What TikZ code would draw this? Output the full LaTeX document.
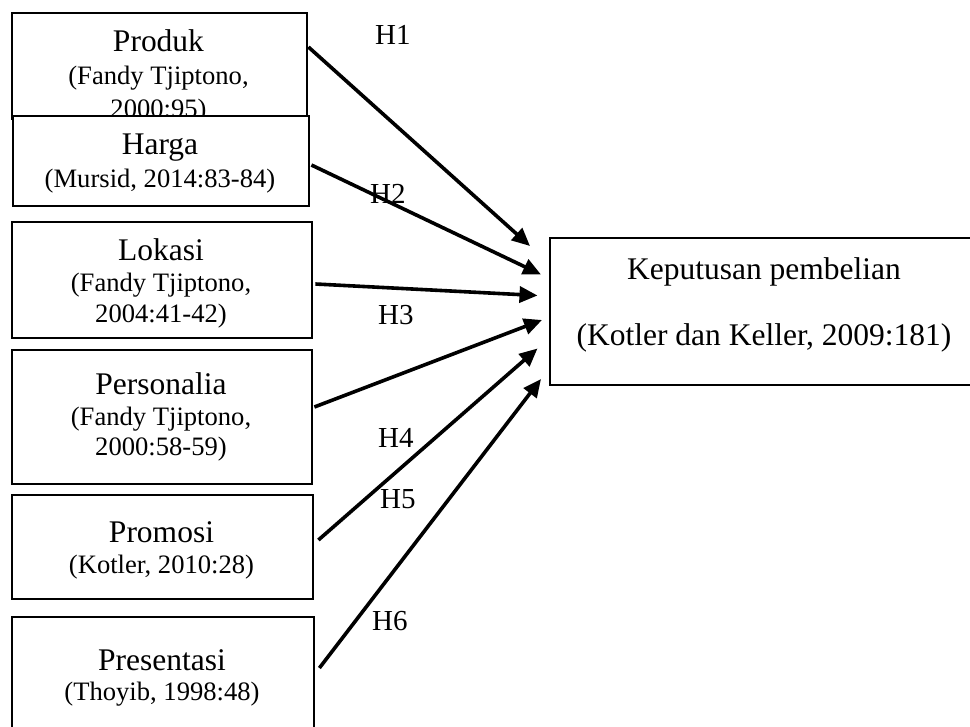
\documentclass[tikz,border=0pt]{standalone}
\usepackage{fontspec}
\setmainfont{Liberation Serif}
\usetikzlibrary{arrows.meta}
\tikzset{
  box/.style={draw, line width=2.4pt, fill=white, inner sep=0pt, anchor=north west},
  big/.style={anchor=base, inner sep=0pt, font=\fontsize{31.5pt}{36pt}\selectfont},
  small/.style={anchor=base, inner sep=0pt, font=\fontsize{26.6pt}{31pt}\selectfont},
  hlab/.style={anchor=base west, inner sep=0pt, font=\fontsize{29pt}{34pt}\selectfont},
  arr/.style={line width=3.6pt, -{Triangle[length=18pt,width=16pt]}}
}
\begin{document}
\begin{tikzpicture}[x=1pt,y=-1pt]
\useasboundingbox (0,0) rectangle (970,727);
% boxes
\node[box, minimum width=295pt, minimum height=106pt] (produk) at (11,12) {};
\node[big]   (produkA) at (158.5,52)  {Produk};
\node[small] (produkB) at (158.5,85)  {(Fandy Tjiptono,};
\node[small] (produkC) at (158.5,118) {2000:95)};
\node[box, minimum width=296pt, minimum height=90pt] (harga) at (12,115) {};
\node[big]   (hargaA) at (160,155) {Harga};
\node[small] (hargaB) at (160,188) {(Mursid, 2014:83-84)};
\node[box, minimum width=300pt, minimum height=116pt] (lokasi) at (11,221) {};
\node[big]   (lokasiA) at (161,261) {Lokasi};
\node[small] (lokasiB) at (161,292) {(Fandy Tjiptono,};
\node[small] (lokasiC) at (161,323) {2004:41-42)};
\node[box, minimum width=300pt, minimum height=134pt] (personalia) at (11,349) {};
\node[big]   (persA) at (161,395) {Personalia};
\node[small] (persB) at (161,426) {(Fandy Tjiptono,};
\node[small] (persC) at (161,456) {2000:58-59)};
\node[box, minimum width=301pt, minimum height=104pt] (promosi) at (11,494) {};
\node[big]   (promA) at (161.5,542) {Promosi};
\node[small] (promB) at (161.5,573) {(Kotler, 2010:28)};
\node[box, minimum width=302pt, minimum height=130pt] (presentasi) at (11,616) {};
\node[big]   (presA) at (162,670) {Presentasi};
\node[small] (presB) at (162,700) {(Thoyib, 1998:48)};
\node[box, minimum width=430pt, minimum height=147pt] (kep) at (549,237) {};
\node[big] (kepA) at (764,280) {Keputusan pembelian};
\node[big] (kepB) at (764,346) {(Kotler dan Keller, 2009:181)};
% arrow ends
\coordinate (t1) at (530,246);
\coordinate (t2) at (541,274.5);
\coordinate (t3) at (537.5,295.5);
\coordinate (t4) at (542,320);
\coordinate (t5) at (537.5,348.5);
\coordinate (t6) at (541,379);
% connectors
\draw[arr] ([yshift=-35pt]produk.north east) -- (t1);
\draw[arr] ([xshift=1pt,yshift=-50pt]harga.north east) -- (t2);
\draw[arr] ([xshift=2pt,yshift=-63pt]lokasi.north east) -- (t3);
\draw[arr] ([xshift=1pt,yshift=-58pt]personalia.north east) -- (t4);
\draw[arr] ([xshift=4pt,yshift=-46pt]promosi.north east) -- (t5);
\draw[arr] ([xshift=4pt,yshift=-52pt]presentasi.north east) -- (t6);
% labels
\node[hlab] (h1) at (375,45) {H1};
\node[hlab] (h2) at (370,204) {H2};
\node[hlab] (h3) at (378,325) {H3};
\node[hlab] (h4) at (378,447) {H4};
\node[hlab] (h5) at (380,508) {H5};
\node[hlab] (h6) at (372,630) {H6};
\end{tikzpicture}
\end{document}
